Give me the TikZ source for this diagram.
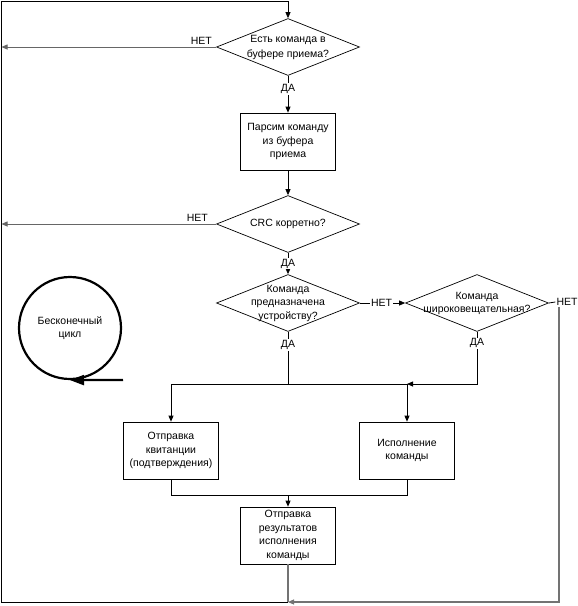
\documentclass[tikz,border=0pt]{standalone}
\usepackage{fontspec}
\setmainfont{Liberation Sans}
\usetikzlibrary{shapes.geometric,arrows.meta}

% text of a decision, kept out of the shape size
\newcommand{\inside}[1]{\smash{\makebox[0pt]{\raisebox{-3pt}{\begin{tabular}{@{}c@{}}#1\end{tabular}}}}}

\tikzset{
    decision/.style={diamond, draw, line width=0.7pt, inner sep=0pt,
        minimum width=143pt, minimum height=57pt},
    block/.style={rectangle, draw, line width=0.7pt, inner sep=0pt,
        minimum width=95pt, minimum height=57pt, align=center},
    line/.style={draw, line width=0.8pt, -{Triangle[length=6pt,width=5pt]}},
    back/.style={draw=black!55, line width=1.1pt},
    lbl/.style={fill=white, inner sep=1pt}
}

\begin{document}
\begin{tikzpicture}[x=1pt, y=-1pt, font=\fontsize{10.5}{13.5}\selectfont]

    \useasboundingbox (0,0) rectangle (578,606);

    % Shapes
    \node[decision] (have) at (288,47) {\inside{Есть команда в\\[2pt]буфере приема?}};
    \node[block] (parse) at (288,141.5) {Парсим команду\\из буфера\\приема};
    \node[decision] (crc) at (288,224) {\inside{CRC корретно?}};
    \node[decision] (mine) at (288,303) {\inside{Команда\\предназначена\\устройству?}};
    \node[decision] (bcast) at (477,303) {\inside{Команда\\широковещательная?}};
    \node[block] (ack) at (171,450.5) {Отправка\\квитанции\\(подтверждения)};
    \node[block] (exec) at (407,450.5) {Исполнение\\команды};
    \node[block] (result) at (288,535.5) {Отправка\\результатов\\исполнения\\команды};

    % Endless loop sign
    \node[circle, draw, line width=2.2pt, minimum size=102pt, align=center] (loop) at (70,328)
        {Бесконечный\\цикл};
    \coordinate (tail) at (123,380);
    \draw[line width=2.2pt, -{Triangle[length=14pt,width=10pt]}] (tail) -- (loop.south);

    % Corners and joints
    \coordinate (top) at (1.5,1);
    \coordinate (bottom) at (1.5,602);
    \coordinate (back) at (288,602);
    \coordinate (right) at (559,602);
    \coordinate (split) at (288,384);
    \coordinate (merge) at (288,495);

    % Main flow
    \draw[line] (have.south) -- node[lbl, pos=0.36] {ДА} (parse.north);
    \draw[line] (parse.south) -- (crc.north);
    \draw[line] (crc.south) -- node[lbl] {ДА} (mine.north);
    \draw[line] (mine.east) -- node[lbl, pos=0.48] {НЕТ} (bcast.west);

    \draw[line width=0.8pt] (mine.south) -- node[lbl, pos=0.25] {ДА} (split);
    \draw[line] (split) -| (ack.north);
    \draw[line] (split) -| (exec.north);
    \draw[line] (bcast.south) |- node[lbl, pos=0.11] {ДА} (exec.north |- split);

    \draw[line width=0.8pt] (ack.south) |- (merge);
    \draw[line width=0.8pt] (exec.south) |- (merge);
    \draw[line] (merge) -- (result.north);

    % Back to the start
    \draw[back] (result.south) -- (back);
    \draw[line width=1pt] (back) -- (bottom) -- (top) -- (top -| have.north);
    \draw[line] (top -| have.north) -- (have.north);
    \draw[line, draw=black!60] (have.west) -- node[pos=0, above left, xshift=-2pt, inner sep=2pt] {НЕТ} (have.west -| top);
    \draw[line, draw=black!60] (crc.west) -- node[pos=0, above left, xshift=-6pt, inner sep=2pt] {НЕТ} (crc.west -| top);

    \node[inner sep=1pt] (no) at (567,302) {НЕТ};
    \draw[line width=0.8pt] (bcast.east) -- (no.west);
    \draw[back, -{Triangle[length=6pt,width=5pt]}] (no.south -| right) -- (right) -- (back);

\end{tikzpicture}
\end{document}
